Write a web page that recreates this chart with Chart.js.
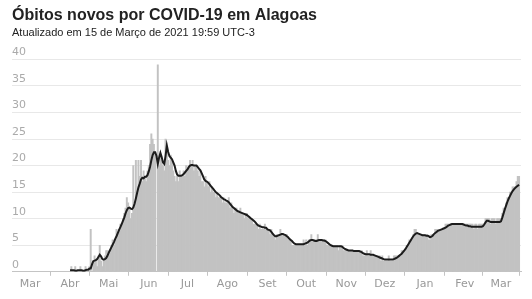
<!DOCTYPE html>
<html>
<head>
<meta charset="utf-8">
<script src="https://cdn.jsdelivr.net/npm/chart.js@4.4.1/dist/chart.umd.min.js"></script>
<style>
  html, body { margin: 0; padding: 0; background: #fff; }
</style>
</head>
<body>
<canvas id="obitosChart" width="532" height="299"></canvas>
<script>
// Rótulos dos meses no eixo x (início de cada mês, a partir de Mar/2020)
const meses = ['Mar', 'Abr', 'Mai', 'Jun', 'Jul', 'Ago', 'Set', 'Out', 'Nov', 'Dez', 'Jan', 'Fev', 'Mar'];

// Primeiro dia da série: 1 de abril de 2020
const inicioSerie = [2020, 3, 1];

// Óbitos novos por dia (01/04/2020 a 15/03/2021)
const obitosDiarios = [
  // abr
  0,1,0,0,1,0,0,0,1,0, 0,0,1,0,0,1,8,0,2,3, 2,1,3,5,2,1,2,3,4,4,
  // mai
  3,4,5,6,5,6,8,7,8,9, 9,10,11,12,14,13,12,10,11,20, 13,21,15,21,18,21,17,19,18,17, 19,
  // jun
  20,24,26,25,24,22,0,39,20,22, 21,20,19,25,23,21,20,22,21,19, 18,17,18,17,19,18,18,19,18,20,
  // jul
  19,20,21,20,21,19,20,20,19,18, 19,17,17,16,18,17,16,17,15,16, 15,15,14,15,14,14,14,13,14,13, 13,
  // ago
  13,14,12,13,12,11,12,12,11,11, 12,11,11,10,11,11,10,10,10,10, 9,9,9,9,8,9,8,8,8,9, 8,
  // set
  8,8,7,8,7,7,6,7,7,7, 8,7,7,7,7,7,6,6,6,5, 5,5,5,5,5,5,5,5,6,5,
  // out
  6,5,6,6,7,6,6,6,6,7, 6,6,6,6,6,6,5,5,5,5, 5,5,5,5,5,4,5,5,5,4, 4,
  // nov
  4,4,4,4,4,4,4,4,4,4, 4,4,4,3,3,3,4,3,3,4, 3,3,3,3,3,3,3,2,3,2,
  // dez
  2,2,2,3,2,2,2,3,3,3, 3,3,3,4,4,4,4,5,5,6, 6,6,7,8,8,7,7,7,7,7, 7,
  // jan
  7,7,7,6,6,7,7,7,8,8, 8,8,8,8,8,8,9,9,9,9, 9,9,9,9,9,9,9,9,9,9, 9,
  // fev
  9,9,9,9,9,9,9,8,9,9, 8,9,9,9,9,9,10,10,10,10, 9,10,10,10,9,10,10,10,
  // mar
  10,11,12,12,13,14,14,15,15,16, 16,16,17,18,18
];

// Média móvel de 7 dias
const mediaMovel = [
  // abr
  0.3,0.3,0.3,0.3,0.2,0.2,0.3,0.3,0.3,0.3, 0.2,0.2,0.3,0.4,0.4,0.6,0.6,1.4,2.0,2.1, 2.2,2.4,2.8,3.2,2.9,2.4,2.3,2.4,2.6,3.0,
  // mai
  3.6,4.1,4.6,5.1,5.6,6.2,6.7,7.3,7.9,8.4, 9.0,9.6,10.2,11.0,11.6,12.0,12.1,11.9,11.8,12.1, 12.8,13.8,14.9,15.9,16.6,17.4,17.7,17.6,17.9,17.9, 18.2,
  // jun
  18.9,19.8,21.0,22.0,22.5,22.5,21.8,20.3,21.5,22.4, 21.6,20.6,20.3,21.8,23.8,22.6,21.8,21.5,21.2,20.6, 20.0,19.0,18.3,18.1,18.1,18.1,18.2,18.4,18.7,19.0,
  // jul
  19.3,19.7,20.0,20.1,20.1,20.0,20.0,20.0,19.7,19.4, 19.1,18.6,18.0,17.4,17.1,17.0,16.8,16.5,16.2,15.9, 15.6,15.3,15.0,14.8,14.6,14.4,14.1,13.9,13.7,13.6, 13.4,
  // ago
  13.3,13.1,12.8,12.5,12.2,12.0,11.8,11.6,11.4,11.3, 11.2,11.1,11.0,10.9,10.8,10.7,10.5,10.3,10.1,9.9, 9.7,9.5,9.2,8.9,8.7,8.6,8.5,8.4,8.4,8.3, 8.3,
  // set
  8.0,7.9,7.8,7.5,7.2,6.9,6.7,6.7,6.8,6.9, 7.0,7.1,7.1,7.0,6.9,6.7,6.5,6.2,6.0,5.8, 5.5,5.3,5.2,5.2,5.2,5.2,5.2,5.2,5.2,5.3,
  // out
  5.4,5.5,5.7,5.9,6.0,6.0,5.9,5.8,5.8,5.9, 6.0,6.0,6.0,5.9,5.9,5.8,5.6,5.4,5.2,5.0, 4.9,4.8,4.8,4.8,4.8,4.8,4.8,4.8,4.7,4.5, 4.3,
  // nov
  4.2,4.1,4.0,4.0,4.0,4.0,3.9,3.9,3.9,3.9, 3.9,3.8,3.7,3.5,3.4,3.3,3.3,3.3,3.3,3.2, 3.2,3.2,3.1,3.0,2.9,2.8,2.7,2.6,2.5,2.4,
  // dez
  2.3,2.3,2.3,2.3,2.3,2.3,2.3,2.4,2.5,2.6, 2.8,3.0,3.2,3.4,3.7,4.0,4.3,4.7,5.1,5.5, 5.9,6.3,6.7,7.0,7.2,7.3,7.2,7.1,7.0,6.9, 6.9,
  // jan
  6.9,6.8,6.8,6.7,6.5,6.6,6.8,7.1,7.3,7.5, 7.7,7.8,7.9,8.0,8.1,8.2,8.3,8.5,8.7,8.8, 8.9,9.0,9.0,9.0,9.0,9.0,9.0,9.0,9.0,9.0, 8.9,
  // fev
  8.8,8.7,8.7,8.6,8.6,8.5,8.5,8.5,8.5,8.5, 8.5,8.5,8.5,8.5,8.6,8.9,9.3,9.6,9.6,9.5, 9.4,9.4,9.4,9.4,9.4,9.4,9.4,9.4,
  // mar
  9.5,10.2,11.0,11.8,12.5,13.2,13.8,14.3,14.8,15.2, 15.5,15.8,16.0,16.2,16.4
];

// Dias contados a partir de 01/03/2020
const DIA_MS = 86400000;
const base = Date.UTC(2020, 2, 1);
const diaDe = (a, m, d) => Math.round((Date.UTC(a, m, d) - base) / DIA_MS);

const primeiroDia = diaDe(...inicioSerie);
const diasMeses = meses.map((m, i) => diaDe(2020, 2 + i, 1));

const barras = obitosDiarios.map((v, i) => ({ x: primeiroDia + i, y: v }));
const linha = mediaMovel.map((v, i) => ({ x: primeiroDia + i, y: v }));

const fonteEixo = { family: 'DejaVu Sans', size: 11 };

const ctx = document.getElementById('obitosChart').getContext('2d');
const chart = new Chart(ctx, {
    type: 'bar',
    data: {
        datasets: [
            {
                type: 'line',
                label: 'Média móvel',
                data: linha,
                borderColor: '#1c1c1c',
                borderWidth: 2,
                pointRadius: 0,
                tension: 0,
                order: 0
            },
            {
                label: 'Óbitos novos',
                data: barras,
                backgroundColor: '#c2c2c2',
                barPercentage: 1,
                categoryPercentage: 1,
                order: 1
            }
        ]
    },
    options: {
        responsive: false,
        animation: false,
        layout: { padding: { left: 12, right: 11, top: 6, bottom: 6 } },
        plugins: {
            legend: { display: false },
            tooltip: { enabled: false },
            title: {
                display: true,
                text: 'Óbitos novos por COVID-19 em Alagoas',
                align: 'start',
                color: '#222',
                font: { family: 'Liberation Sans', size: 16, weight: 'bold' },
                padding: { top: 0, bottom: 1 }
            },
            subtitle: {
                display: true,
                text: 'Atualizado em 15 de Março de 2021 19:59 UTC-3',
                align: 'start',
                color: '#222',
                font: { family: 'Liberation Sans', size: 11 },
                padding: { top: 0, bottom: 20 }
            }
        },
        scales: {
            x: {
                type: 'linear',
                min: -14,
                max: 380.5,
                offset: false,
                grid: { drawOnChartArea: false, drawTicks: true, tickLength: 4, tickColor: '#c4c4c4' },
                border: { color: '#c4c4c4' },
                afterBuildTicks: (scale) => {
                    scale.ticks = diasMeses.map(v => ({ value: v }));
                },
                ticks: {
                    autoSkip: false,
                    maxRotation: 0,
                    color: '#999',
                    font: fonteEixo,
                    padding: 2,
                    callback: (v, i) => meses[i]
                }
            },
            y: {
                min: 0,
                max: 40,
                grid: { color: '#e8e8e8', drawTicks: false },
                border: { display: false },
                ticks: {
                    stepSize: 5,
                    mirror: true,
                    labelOffset: -7,
                    padding: 0,
                    color: '#aaa',
                    font: fonteEixo
                }
            }
        }
    }
});
</script>
</body>
</html>
